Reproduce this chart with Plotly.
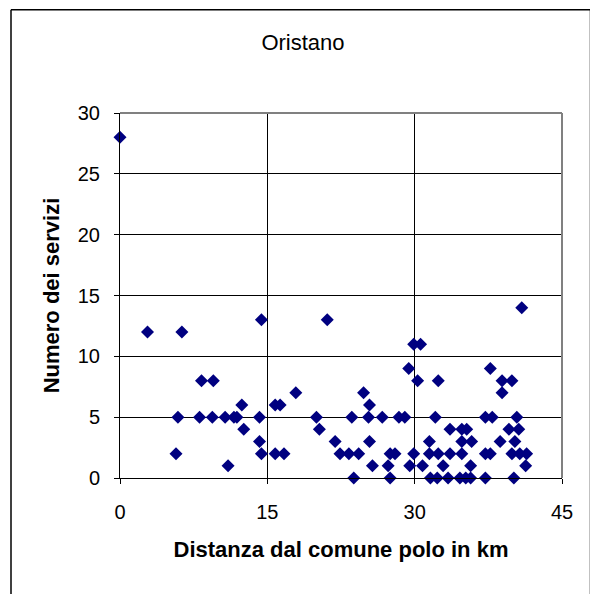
import plotly.graph_objects as go

# Distanza dal comune polo (km) e numero dei servizi
distanza = [
    0, 2.8, 6.3, 14.4, 21.1, 8.3, 9.5, 5.9, 8.1, 9.4, 10.7, 11.6, 11.9, 12.4, 12.6,
    14.2, 14.2, 14.4, 5.7, 11.0, 17.9, 15.8, 16.3, 20.0, 20.3, 15.8, 16.7,
    29.9, 30.6, 29.4, 30.3, 32.4, 37.7, 38.9, 39.9, 38.9, 24.8, 25.4, 23.6, 25.3,
    26.7, 28.4, 29.0, 21.9, 25.4, 22.4, 23.3, 24.3, 27.5, 28.0, 29.9, 25.7, 27.3,
    29.5, 23.8, 27.5, 32.1, 37.2, 37.9, 40.4, 33.6, 34.8, 35.3, 39.6, 40.6, 31.5,
    34.8, 35.8, 38.7, 40.2, 31.5, 32.4, 33.6, 34.8, 37.2, 37.7, 39.9, 40.7, 41.4,
    30.8, 32.9, 35.7, 41.3, 31.6, 32.3, 33.4, 34.6, 35.2, 35.7, 37.2, 40.1, 40.9,
]
servizi = [
    28, 12, 12, 13, 13, 8, 8, 5, 5, 5, 5, 5, 5, 6, 4,
    5, 3, 2, 2, 1, 7, 6, 6, 5, 4, 2, 2,
    11, 11, 9, 8, 8, 9, 8, 8, 7, 7, 6, 5, 5,
    5, 5, 5, 3, 3, 2, 2, 2, 2, 2, 2, 1, 1,
    1, 0, 0, 5, 5, 5, 5, 4, 4, 4, 4, 4, 3,
    3, 3, 3, 3, 2, 2, 2, 2, 2, 2, 2, 2, 2,
    1, 1, 1, 1, 0, 0, 0, 0, 0, 0, 0, 0, 14,
]

font = "Liberation Sans, Arial, sans-serif"

fig = go.Figure(go.Scatter(
    x=distanza, y=servizi, mode="markers",
    marker=dict(symbol="diamond", size=10, color="#000080"),
    cliponaxis=False,
))

axis_common = dict(
    showgrid=True, gridcolor="black", gridwidth=1,
    showline=True, linecolor="black", linewidth=1,
    ticks="outside", ticklen=5, tickcolor="black",
    tickfont=dict(family=font, size=20, color="black"),
    zeroline=False,
)

fig.update_xaxes(
    range=[0, 45], dtick=15, ticklabelstandoff=11,
    title=dict(text="<b>Distanza dal comune polo in km</b>", standoff=19,
               font=dict(family=font, size=22, color="black")),
    **axis_common,
)
fig.update_yaxes(
    range=[0, 30], dtick=5, ticklabelstandoff=10,
    title=dict(text="<b>Numero dei servizi</b>", standoff=12,
               font=dict(family=font, size=22, color="black")),
    **axis_common,
)

frame = dict(color="black", width=1.5)

# the page body adds an 8px offset, so the figure is drawn 8px smaller
fig.update_layout(
    width=590, height=586,
    margin=dict(l=112, r=36, t=105, b=116),
    paper_bgcolor="white", plot_bgcolor="white",
    showlegend=False,
    title=dict(text="Oristano", x=0.5, xanchor="center", y=0.942, yanchor="middle",
               font=dict(family=font, size=22, color="black")),
    shapes=[
        # plot area border (top and right in grey)
        dict(type="line", xref="paper", yref="paper", x0=0, x1=1, y0=1, y1=1,
             line=dict(color="#808080", width=2), layer="above"),
        dict(type="line", xref="paper", yref="paper", x0=1, x1=1, y0=0, y1=1,
             line=dict(color="#808080", width=2), layer="above"),
        # outer chart frame (top, left, right)
        dict(type="line", xref="paper", yref="paper", x0=-0.2466, x1=1.0645,
             y0=1.283, y1=1.283, line=frame),
        dict(type="line", xref="paper", yref="paper", x0=-0.2466, x1=-0.2466,
             y0=1.283, y1=-0.34, line=frame),
        dict(type="line", xref="paper", yref="paper", x0=1.0645, x1=1.0645,
             y0=1.283, y1=-0.34, line=frame),
    ],
)

fig.write_html("out.html")
